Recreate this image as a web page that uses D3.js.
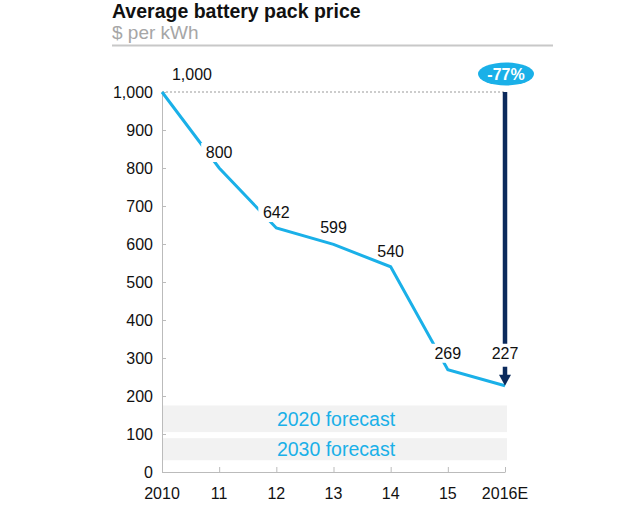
<!DOCTYPE html>
<html><head><meta charset="utf-8">
<script src="https://cdn.jsdelivr.net/npm/d3@7"></script>
<style>body{margin:0;background:#fff;font-family:"Liberation Sans",Arial,sans-serif;}</style>
</head><body>
<svg id="c" width="644" height="505"></svg>
<script>
const years = ["2010","11","12","13","14","15","2016E"];
const prices = [1000, 800, 642, 599, 540, 269, 227];
const yTicks = [0,100,200,300,400,500,600,700,800,900,1000];
const bands = [{label:"2020 forecast", lo:105, hi:175},{label:"2030 forecast", lo:31, hi:89}];
const changeLabel = "-77%";

const svg = d3.select("#c");
const blue = "#1ab0e8", navy = "#0b2a5c";
const x = d3.scalePoint().domain(years).range([162, 505]);
const y = d3.scaleLinear().domain([0,1000]).range([472, 92]);

// title
svg.append("text").attr("x",112).attr("y",17.5).attr("font-size",19.5).attr("font-weight","bold").attr("fill","#111").text("Average battery pack price");
svg.append("text").attr("x",112).attr("y",38.5).attr("font-size",19).attr("fill","#a6a6a6").text("$ per kWh");
svg.append("line").attr("x1",112).attr("x2",553).attr("y1",45.5).attr("y2",45.5).attr("stroke","#c8c8c8").attr("stroke-width",2);

// bands
bands.forEach(b=>{
  svg.append("rect").attr("x",163).attr("width",344).attr("y",y(b.hi)).attr("height",y(b.lo)-y(b.hi)).attr("fill","#f2f2f2");
  svg.append("text").attr("x",336).attr("y",(y(b.hi)+y(b.lo))/2+7).attr("text-anchor","middle").attr("font-size",19.5).attr("fill",blue).text(b.label);
});

// y axis
const ya = svg.append("g").attr("transform","translate(162,0)").call(d3.axisRight(y).tickValues(yTicks).tickSize(4).tickFormat(""));
ya.select(".domain").attr("stroke","#bbb");
ya.selectAll(".tick line").attr("stroke","#bbb");
yTicks.forEach(t=>{
  svg.append("text").attr("x",153).attr("y",y(t)+5.5).attr("text-anchor","end").attr("font-size",16).attr("fill","#111").text(d3.format(",")(t));
});
// x axis
const xa = svg.append("g").attr("transform","translate(0,472)").call(d3.axisTop(x).tickSize(5).tickSizeOuter(0).tickFormat(""));
xa.select(".domain").attr("stroke","#bbb");
xa.selectAll(".tick line").attr("stroke","#bbb");
years.forEach(yr=>{
  svg.append("text").attr("x",x(yr)).attr("y",499).attr("text-anchor","middle").attr("font-size",16).attr("fill","#111").text(yr);
});

// dotted reference line
svg.append("line").attr("x1",162).attr("x2",505).attr("y1",y(1000)).attr("y2",y(1000)).attr("stroke","#999").attr("stroke-width",1).attr("stroke-dasharray","2,2");

// price line
const line = d3.line().x((d,i)=>x(years[i])).y(d=>y(d));
svg.append("path").datum(prices).attr("d",line).attr("fill","none").attr("stroke",blue).attr("stroke-width",3);

const labelPos = [
  {dx:30, dy:-12},{dx:0,dy:-10},{dx:0,dy:-10},{dx:0,dy:-11},{dx:0,dy:-10},{dx:0,dy:-11},{dx:0,dy:-27}
];
const boxed = [false,true,true,false,false,true,false];
prices.forEach((p,i)=>{
  const lx = x(years[i]) + labelPos[i].dx, ly = y(p)+labelPos[i].dy;
  if(boxed[i]){
    svg.append("rect").attr("x",lx-18).attr("y",ly-15).attr("width",36).attr("height",19).attr("fill","#fff");
  }
});
prices.forEach((p,i)=>{
  if(i===6) return;
  const lx = x(years[i]) + labelPos[i].dx, ly = y(p)+labelPos[i].dy;
  svg.append("text").attr("x",lx).attr("y",ly).attr("text-anchor","middle").attr("font-size",16).attr("fill","#111").text(d3.format(",")(p));
});

// arrow
const ax = x("2016E");
svg.append("line").attr("x1",ax).attr("x2",ax).attr("y1",y(1000)).attr("y2",y(227)-42).attr("stroke",navy).attr("stroke-width",4.5);
svg.append("line").attr("x1",ax).attr("x2",ax).attr("y1",y(227)-19).attr("y2",y(227)-8).attr("stroke",navy).attr("stroke-width",4.5);
svg.append("path").attr("d",`M${ax-6},${y(227)-11} L${ax+6},${y(227)-11} L${ax},${y(227)} Z`).attr("fill",navy);
svg.append("text").attr("x",ax).attr("y",y(227)-27).attr("text-anchor","middle").attr("font-size",16).attr("fill","#111").text(d3.format(",")(prices[6]));

// ellipse label
svg.append("ellipse").attr("cx",ax+1).attr("cy",74).attr("rx",28).attr("ry",11.5).attr("fill",blue);
svg.append("text").attr("x",ax+1).attr("y",80).attr("text-anchor","middle").attr("font-size",16).attr("font-weight","bold").attr("fill","#fff").text(changeLabel);
</script>
</body></html>
